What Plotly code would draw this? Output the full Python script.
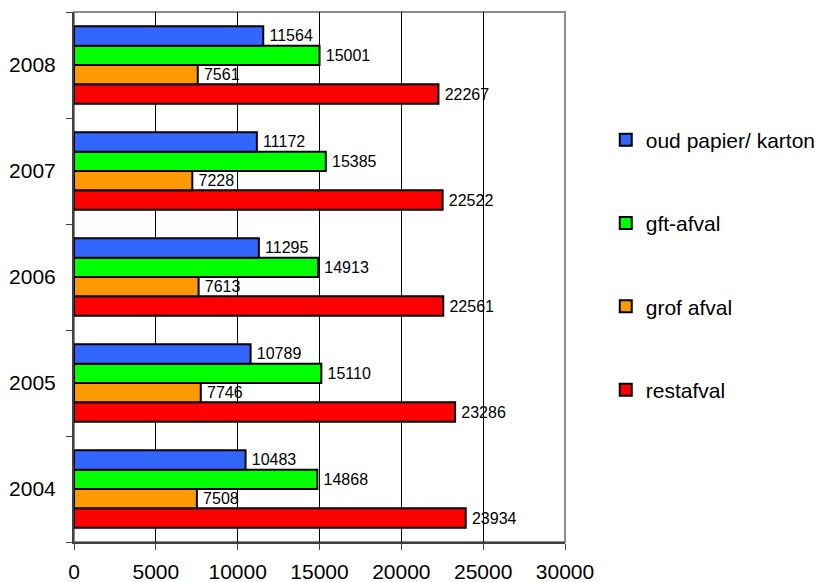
import plotly.graph_objects as go

years = ["2004", "2005", "2006", "2007", "2008"]
oud_papier = [10483, 10789, 11295, 11172, 11564]
gft_afval = [14868, 15110, 14913, 15385, 15001]
grof_afval = [7508, 7746, 7613, 7228, 7561]
restafval = [23934, 23286, 22561, 22522, 22267]

series_names = ["oud papier/ karton", "gft-afval", "grof afval", "restafval"]
series_values = [oud_papier, gft_afval, grof_afval, restafval]
series_colors = ["#3366FF", "#00FF00", "#FF9900", "#FF0000"]

x_ticks = [0, 5000, 10000, 15000, 20000, 25000, 30000]

FONT = "Liberation Sans, Arial, sans-serif"

fig = go.Figure()
# add in reverse so that the first series sits at the top of each group
items = list(zip(series_names, series_values, series_colors))
for rank, (name, vals, col) in reversed(list(enumerate(items, start=1))):
    fig.add_trace(go.Bar(
        y=years, x=vals, name=name, orientation="h",
        marker=dict(color=col, line=dict(color="black", width=2)),
        text=["\u2009" + str(v) for v in vals], textposition="outside",
        textfont=dict(family=FONT, size=16, color="black"),
        cliponaxis=False, legendgroup=name, legendrank=rank,
    ))

fig.update_layout(
    width=820, height=582,
    margin=dict(l=74, r=255, t=12, b=40, autoexpand=False),
    paper_bgcolor="white", plot_bgcolor="white",
    barmode="group", bargap=0.27, bargroupgap=0,
    font=dict(family=FONT, color="black"),
    showlegend=True,
    legend=dict(
        x=1.083, xanchor="left", y=0.797, yanchor="top",
        traceorder="grouped", tracegroupgap=53,
        font=dict(family=FONT, size=21, color="black"),
        bgcolor="rgba(0,0,0,0)",
    ),
    shapes=[dict(type="rect", xref="paper", yref="paper", x0=0, x1=1, y0=0, y1=1,
                 line=dict(color="#8c8c8c", width=2), layer="below")],
)

fig.update_xaxes(
    range=[0, 30000], tickvals=x_ticks, ticktext=[str(t) for t in x_ticks],
    showgrid=True, gridcolor="black", gridwidth=1,
    showline=True, linecolor="#404040", linewidth=2,
    ticks="outside", ticklen=6, tickcolor="#404040", tickwidth=1,
    tickfont=dict(family=FONT, size=21, color="black"),
    zeroline=False, ticklabelstandoff=4,
)
fig.update_yaxes(
    categoryorder="array", categoryarray=years,
    showgrid=False, showline=True, linecolor="#404040", linewidth=2,
    ticks="outside", ticklen=6, tickcolor="#404040", tickwidth=1,
    tickson="boundaries",
    tickfont=dict(family=FONT, size=21, color="black"),
    ticklabelstandoff=12,
)

fig.write_html("out.html", config={"displayModeBar": False},
               post_script="document.body.style.margin='0';")
